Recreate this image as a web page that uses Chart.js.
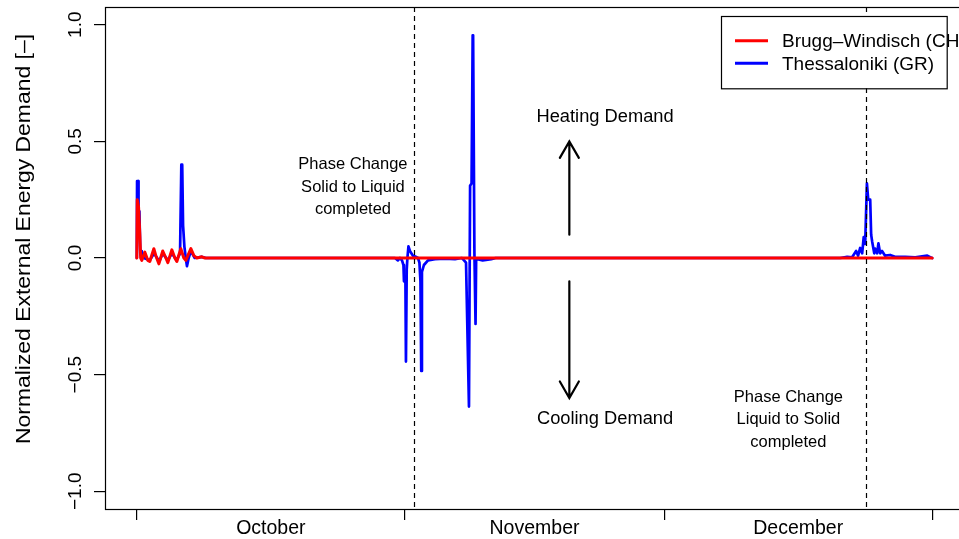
<!DOCTYPE html>
<html><head><meta charset="utf-8">
<script src="https://cdn.jsdelivr.net/npm/chart.js@4"></script>
<style>html,body{margin:0;padding:0;overflow:hidden;background:#fff;width:959px;height:539px}canvas{display:block}</style>
</head><body>
<canvas id="c" width="970" height="539" style="width:970px;height:539px"></canvas>
<script>
const seriesNames = ['Brugg\u2013Windisch (CH)', 'Thessaloniki (GR)'];
const seriesColors = ['#FF0000', '#0000FF'];

// days since 1 October
const bruggDays = [0, 0.05, 0.2, 0.35, 0.45, 0.58, 0.93, 1.27, 1.5, 1.97, 2.2, 2.55, 3.0, 3.36, 3.59, 4.05, 4.4, 4.63, 5.09, 5.44, 5.67, 6.25, 6.6, 6.94, 7.52, 7.87, 92];
const bruggValues = [0, 0.25, 0.22, 0.1, 0.0, -0.01, 0.025, -0.01, -0.015, 0.04, 0.01, -0.025, 0.03, 0.0, -0.02, 0.035, 0.0, -0.015, 0.04, 0.0, -0.01, 0.04, 0.01, 0.0, 0.005, 0.0, 0.0];

const thessDays = [0, 0.03, 0.15, 0.2, 0.3, 0.4, 0.5, 0.58, 0.8, 1.5, 2.0, 2.6, 3.0, 3.6, 4.05, 4.6, 5.0, 5.15, 5.25, 5.35, 5.5, 5.7, 5.8, 6.0, 6.25, 6.7, 7.5, 8.0,
  29.86, 30.2, 30.44, 30.67, 30.84, 30.9, 31.07, 31.13, 31.22, 31.3, 31.42, 31.59, 31.94, 32.29, 32.52, 32.69, 32.81, 32.9, 32.98, 33.21, 33.68, 34.49, 35.64, 36.8, 37.6, 37.85, 38.08, 38.42, 38.55, 38.72, 38.85, 38.9, 39.05, 39.18, 39.25, 39.4, 40.0, 41.0, 41.5,
  81.36, 82.17, 82.74, 83.2, 83.43, 83.67, 83.9, 84.08, 84.25, 84.45, 84.6, 84.83, 84.94, 85.06, 85.3, 85.4, 85.63, 85.78, 85.98, 86.2, 86.55, 87.13, 87.7, 88.88, 90.04, 91.43, 91.77, 92];
const thessValues = [0, 0.33, 0.33, 0.2, 0.2, 0.02, 0.0, 0.03, 0.0, -0.01, 0.02, -0.015, 0.02, -0.01, 0.02, -0.01, 0.02, 0.40, 0.40, 0.14, 0.05, -0.01, -0.035, 0.0, 0.03, 0.0, 0.005, 0.0,
  0.0, -0.01, 0.0, -0.01, -0.03, -0.10, -0.10, -0.444, -0.05, 0.0, 0.05, 0.03, 0.01, 0.005, 0.0, -0.02, -0.10, -0.484, -0.06, -0.03, -0.01, -0.005, -0.003, -0.005, 0.0, -0.01, -0.02, -0.637, 0.31, 0.32, 0.955, 0.955, 0.02, -0.283, -0.01, -0.005, -0.01, -0.005, 0.0,
  0.0, 0.005, 0.003, 0.03, 0.01, 0.043, 0.02, 0.09, 0.06, 0.32, 0.25, 0.25, 0.10, 0.07, 0.02, 0.04, 0.02, 0.063, 0.02, 0.03, 0.01, 0.013, 0.005, 0.005, 0.003, 0.01, 0.003, 0.0];

const monthBoundaryDays = [0, 31, 61, 92];
const monthLabelDays = [15.5, 46, 76.5];
const monthLabels = ['October', 'November', 'December'];
const yTickValues = [-1, -0.5, 0, 0.5, 1];
const yTickLabels = ['\u22121.0', '\u22120.5', '0.0', '0.5', '1.0'];
const yAxisTitle = 'Normalized External Energy Demand [\u2013]';

const phaseChangeDays = [32.06, 84.37];
const phaseTexts = [['Phase Change', 'Solid to Liquid', 'completed'], ['Phase Change', 'Liquid to Solid', 'completed']];
const phaseTextPos = [[25.0, 0.304], [75.37, -0.694]];
const demandTexts = ['Heating Demand', 'Cooling Demand'];
const demandTextPos = [[54.16, 0.604], [54.16, -0.69]];
const arrowDay = 50.03;
const heatArrow = [0.1, 0.5];
const coolArrow = [-0.1, -0.6];

function pts(xs, ys) { return xs.map((x, i) => ({ x: x, y: ys[i] })); }

const FONT = '"Liberation Sans", Arial, Helvetica, sans-serif';

const overlay = {
  id: 'overlay',
  afterDraw(chart) {
    const ctx = chart.ctx, a = chart.chartArea, xs = chart.scales.x, ys = chart.scales.y;
    ctx.save();
    // phase change dashed lines
    ctx.strokeStyle = '#000'; ctx.lineWidth = 1.2; ctx.setLineDash([5, 4]);
    phaseChangeDays.forEach(d => {
      const px = Math.round(xs.getPixelForValue(d)) + 0.5;
      ctx.beginPath(); ctx.moveTo(px, a.top); ctx.lineTo(px, a.bottom); ctx.stroke();
    });
    ctx.setLineDash([]);
    // box
    ctx.lineWidth = 1.2;
    ctx.strokeRect(a.left + 0.5, a.top + 0.5, a.right - a.left, a.bottom - a.top);
    // arrows
    ctx.lineWidth = 2.2; ctx.lineCap = 'round';
    const ax = xs.getPixelForValue(arrowDay);
    [[heatArrow, -1], [coolArrow, 1]].forEach(([r, dir]) => {
      const y0 = ys.getPixelForValue(r[0]), y1 = ys.getPixelForValue(r[1]);
      ctx.beginPath(); ctx.moveTo(ax, y0); ctx.lineTo(ax, y1);
      ctx.moveTo(ax - 9.5, y1 - dir * 16.5); ctx.lineTo(ax, y1); ctx.lineTo(ax + 9.5, y1 - dir * 16.5);
      ctx.stroke();
    });
    // texts
    ctx.fillStyle = '#000'; ctx.textAlign = 'center'; ctx.textBaseline = 'middle';
    ctx.font = '18.3px ' + FONT;
    demandTexts.forEach((t, i) => {
      ctx.fillText(t, xs.getPixelForValue(demandTextPos[i][0]), ys.getPixelForValue(demandTextPos[i][1]));
    });
    ctx.font = '16.5px ' + FONT;
    phaseTexts.forEach((lines, i) => {
      const cx = xs.getPixelForValue(phaseTextPos[i][0]), cy = ys.getPixelForValue(phaseTextPos[i][1]);
      lines.forEach((l, j) => ctx.fillText(l, cx, cy + (j - 1) * 22.5));
    });
    // y tick labels rotated
    ctx.font = '19px ' + FONT; ctx.textBaseline = 'alphabetic';
    yTickValues.forEach((v, i) => {
      ctx.save(); ctx.translate(80.5, ys.getPixelForValue(v)); ctx.rotate(-Math.PI / 2);
      ctx.fillText(yTickLabels[i], 0, 0); ctx.restore();
    });
    // y title (stretched along its length to match reference extent)
    ctx.font = '21px ' + FONT;
    const tw = ctx.measureText(yAxisTitle).width;
    ctx.save(); ctx.translate(30, 239); ctx.rotate(-Math.PI / 2); ctx.scale(410 / tw, 1);
    ctx.fillText(yAxisTitle, 0, 0); ctx.restore();
    // legend
    const lx = 721, ly = 16, lw = 225.7, lh = 72.3;
    ctx.fillStyle = '#fff'; ctx.fillRect(lx, ly, lw, lh);
    ctx.strokeStyle = '#000'; ctx.lineWidth = 1.2; ctx.strokeRect(lx + 0.5, ly + 0.5, lw, lh);
    ctx.font = '19px ' + FONT; ctx.textAlign = 'left'; ctx.textBaseline = 'middle';
    [40.7, 63.3].forEach((yy, i) => {
      ctx.strokeStyle = seriesColors[i]; ctx.lineWidth = 3; ctx.lineCap = 'butt';
      ctx.beginPath(); ctx.moveTo(735, yy); ctx.lineTo(768, yy); ctx.stroke();
      ctx.fillStyle = '#000'; ctx.fillText(seriesNames[i], 782, yy + 1);
    });
    ctx.restore();
  }
};

new Chart(document.getElementById('c'), {
  type: 'line',
  data: {
    datasets: [
      { label: seriesNames[0], data: pts(bruggDays, bruggValues), borderColor: seriesColors[0], borderWidth: 3 },
      { label: seriesNames[1], data: pts(thessDays, thessValues), borderColor: seriesColors[1], borderWidth: 2.7 }
    ]
  },
  options: {
    responsive: false, animation: false, devicePixelRatio: 1,
    layout: { padding: { left: 0, right: 6, top: 7, bottom: 0 } },
    elements: {
      point: { radius: 0, hoverRadius: 0 },
      line: { tension: 0, borderJoinStyle: 'round', borderCapStyle: 'round', fill: false }
    },
    plugins: { legend: { display: false }, tooltip: { enabled: false } },
    scales: {
      x: {
        type: 'linear', min: -3.68, max: 95.68,
        afterBuildTicks: s => { s.ticks = monthBoundaryDays.concat(monthLabelDays).sort((p, q) => p - q).map(v => ({ value: v })); },
        afterFit: s => { s.height = 30; },
        border: { display: false },
        grid: {
          drawOnChartArea: false, drawTicks: true, tickLength: 11, lineWidth: 1.2,
          tickColor: c => (c.tick && monthBoundaryDays.includes(c.tick.value)) ? '#000' : 'rgba(0,0,0,0)'
        },
        ticks: {
          autoSkip: false, maxRotation: 0, minRotation: 0, padding: -3, color: '#000',
          font: { family: FONT, size: 19.5 },
          callback: v => { const i = monthLabelDays.indexOf(v); return i >= 0 ? monthLabels[i] : ''; }
        }
      },
      y: {
        type: 'linear', min: -1.076, max: 1.076,
        afterBuildTicks: s => { s.ticks = yTickValues.map(v => ({ value: v })); },
        afterFit: s => { s.width = 105; },
        border: { display: false },
        grid: { drawOnChartArea: false, drawTicks: true, tickLength: 11, lineWidth: 1.2, tickColor: '#000' },
        ticks: { display: false }
      }
    }
  },
  plugins: [overlay]
});
</script>
</body></html>
